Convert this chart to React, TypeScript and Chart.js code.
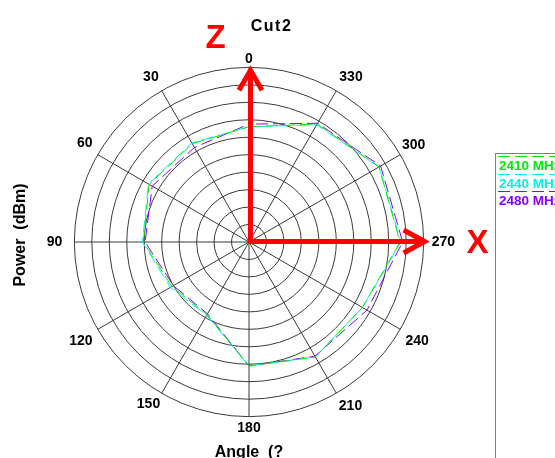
import React, { useEffect, useRef } from 'react';
import { Chart, registerables } from 'chart.js';

Chart.register(...registerables);

// Angle labels, clockwise from the top (as drawn by the radar scale)
const ANGLE_LABELS = ['0', '330', '300', '270', '240', '210', '180', '150', '120', '90', '60', '30'];
const SERIES_NAMES = ['2410 MHz', '2440 MHz', '2480 MHz'];
// Power, in ring units (0 = centre, 10 = outer ring)
const POWER_2410 = [6.6, 7.8, 8.6, 8.65, 7.5, 7.6, 7.1, 4.8, 5.1, 6.05, 6.6, 6.5];
const POWER_2440 = [6.6, 7.75, 8.6, 8.7, 7.5, 7.6, 7.1, 4.85, 5.2, 6.1, 6.65, 6.55];
const POWER_2480 = [6.75, 7.85, 8.7, 8.8, 7.8, 7.55, 7.1, 4.75, 5.0, 5.95, 6.4, 6.25];
const RING_MIN = 0;
const RING_MAX = 10;
const RING_STEP = 1;

const FONT = "'Liberation Sans', Arial, Helvetica, sans-serif";
const COLORS = ['#00EE00', '#00F0F0', '#8A00FF'];

const overlayPlugin = {
  id: 'overlay',
  afterDraw(chart: any) {
    const ctx = chart.ctx as CanvasRenderingContext2D;
    const s = chart.scales.r;
    const xc = s.xCenter;
    const yc = s.yCenter;
    const R = s.drawingArea;
    ctx.save();

    // Title
    ctx.fillStyle = '#000';
    ctx.font = `bold 16px ${FONT}`;
    ctx.textAlign = 'center';
    ctx.textBaseline = 'middle';
    (ctx as any).letterSpacing = '1.5px';
    ctx.fillText('Cut2', 271.5, 26.5);
    (ctx as any).letterSpacing = '0px';

    // Y axis title
    ctx.save();
    ctx.translate(21, 235);
    ctx.rotate(-Math.PI / 2);
    ctx.font = `bold 16px ${FONT}`;
    ctx.fillText('Power  (dBm)', 0, 0);
    ctx.restore();

    // X axis title
    ctx.font = `bold 16px ${FONT}`;
    ctx.textBaseline = 'alphabetic';
    ctx.fillText('Angle  (?', 249, 456.5);

    // Red axis arrows
    ctx.strokeStyle = '#FF0000';
    ctx.lineWidth = 5;
    ctx.lineCap = 'butt';
    ctx.lineJoin = 'miter';
    const vx = xc + 1.5;
    const hy = yc - 0.5;
    const upTip = yc - R + 3;
    const rightTip = xc + R + 1;
    ctx.beginPath();
    ctx.moveTo(vx, yc + 2);
    ctx.lineTo(vx, upTip + 2);
    ctx.stroke();
    ctx.beginPath();
    ctx.moveTo(vx - 11.5, upTip + 20);
    ctx.lineTo(vx, upTip);
    ctx.lineTo(vx + 11.5, upTip + 20);
    ctx.stroke();
    ctx.beginPath();
    ctx.moveTo(xc - 1, hy);
    ctx.lineTo(rightTip - 2, hy);
    ctx.stroke();
    ctx.beginPath();
    ctx.moveTo(rightTip - 21, hy - 11.5);
    ctx.lineTo(rightTip, hy);
    ctx.lineTo(rightTip - 21, hy + 11.5);
    ctx.stroke();

    ctx.fillStyle = '#FF0000';
    ctx.font = `bold 33px ${FONT}`;
    ctx.textAlign = 'center';
    ctx.textBaseline = 'alphabetic';
    ctx.fillText('Z', 215.5, 48);
    ctx.fillText('X', 477.5, 253);

    // Legend box
    ctx.strokeStyle = '#808080';
    ctx.lineWidth = 1;
    ctx.setLineDash([]);
    ctx.strokeRect(495.5, 153.5, 300, 400);
    chart.data.datasets.forEach((ds: any, i: number) => {
      const y = 156 + i * 17.5;
      ctx.strokeStyle = ds.borderColor;
      ctx.lineWidth = 1;
      ctx.setLineDash([12, 5]);
      ctx.beginPath();
      ctx.moveTo(498, Math.round(y) + 0.5);
      ctx.lineTo(560, Math.round(y) + 0.5);
      ctx.stroke();
      ctx.setLineDash([]);
      ctx.fillStyle = ds.borderColor;
      ctx.font = `bold 13.5px ${FONT}`;
      ctx.textAlign = 'left';
      ctx.fillText(ds.label, 499, y + 14);
    });

    ctx.restore();
  },
};

export default function App() {
  const ref = useRef<HTMLCanvasElement>(null);
  useEffect(() => {
    if (!ref.current) return;
    const series = [POWER_2410, POWER_2440, POWER_2480];
    const chart = new Chart(ref.current, {
      type: 'radar',
      data: {
        labels: ANGLE_LABELS,
        datasets: series.map((vals, i) => ({
          label: SERIES_NAMES[i],
          data: vals,
          borderColor: COLORS[i],
          backgroundColor: COLORS[i],
          borderWidth: 1,
          borderDash: [12, 5],
          borderDashOffset: i * 5,
          fill: false,
          pointRadius: 0,
          tension: 0,
        })),
      },
      options: {
        animation: false,
        responsive: false,
        devicePixelRatio: 1,
        layout: { padding: { left: 45, top: 38, right: 98, bottom: 8 } },
        plugins: {
          legend: { display: false },
          title: { display: false },
          tooltip: { enabled: false },
        },
        scales: {
          r: {
            min: RING_MIN,
            max: RING_MAX,
            ticks: { display: false, stepSize: RING_STEP },
            grid: { color: '#3a3a3a', lineWidth: 1, circular: true },
            angleLines: { color: '#3a3a3a', lineWidth: 1 },
            pointLabels: {
              color: '#000',
              font: { family: FONT, size: 14, weight: 'bold' },
              padding: (c: any) => [0, 6, 2, 8, 6, 5, 3, 3, 6, 12, 6, 6][c.index] ?? 5,
            },
          },
        },
      } as any,
      plugins: [overlayPlugin],
    });
    return () => chart.destroy();
  }, []);
  return (
    <div style={{ position: 'absolute', left: 0, top: 0, width: 555, height: 458, background: '#fff', overflow: 'hidden' }}>
      <canvas ref={ref} width={555} height={458} style={{ display: 'block', width: 555, height: 458 }} />
    </div>
  );
}
